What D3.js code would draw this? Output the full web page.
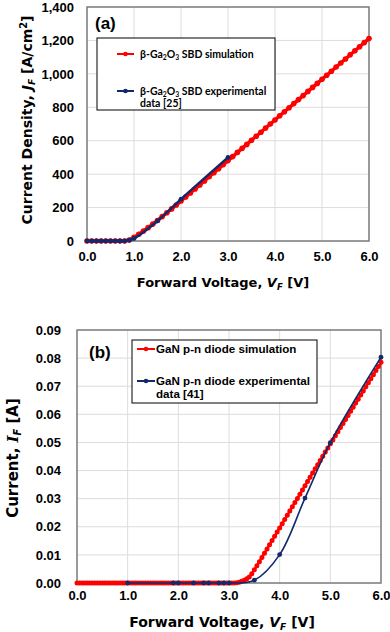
<!DOCTYPE html>
<html>
<head>
<meta charset="utf-8">
<script src="https://cdn.jsdelivr.net/npm/d3@7"></script>
<style>
  body { margin: 0; background: #fff; }
</style>
</head>
<body>
<div id="chart"></div>
<script>
'use strict';

// PANEL (a) DATA: beta-Ga2O3 SBD ---------------------
const simVoltA = [0.0,0.1,0.2,0.3,0.4,0.5,0.6,0.7,0.8,0.9,
                  1.0,1.1,1.2,1.3,1.4,1.5,1.6,1.7,1.8,1.9,
                  2.0,2.1,2.2,2.3,2.4,2.5,2.6,2.7,2.8,2.9,
                  3.0,3.1,3.2,3.3,3.4,3.5,3.6,3.7,3.8,3.9,
                  4.0,4.1,4.2,4.3,4.4,4.5,4.6,4.7,4.8,4.9,
                  5.0,5.1,5.2,5.3,5.4,5.5,5.6,5.7,5.8,5.9,6.0]
const simCurrA = [0,0,0,0,0,0,0,0,0,6,
                  22,40,60,80,101,123,146,169,192,215,
                  239,263,287,311,335,359,384,408,432,457,
                  481,505,530,554,578,603,627,651,676,700,
                  724,749,773,797,822,846,870,895,919,943,
                  968,992,1016,1041,1065,1089,1114,1138,1162,1187,1211]
const expVoltA = [0.0,0.1,0.2,0.3,0.4,0.5,0.6,0.7,0.8,0.9,1.0,1.5,2.0,3.0]
const expCurrA = [0,0,0,0,0,0,0,0,0,5,15,120,250,500]
const yTicksA  = [0,200,400,600,800,1000,1200,1400]
const xTicks   = [0,1,2,3,4,5,6]

// PANEL (b) DATA: GaN p-n diode ---------------------
const simVoltB = [0.00,0.05,0.10,0.15,0.20,0.25,0.30,0.35,0.40,0.45,
                  0.50,0.55,0.60,0.65,0.70,0.75,0.80,0.85,0.90,0.95,
                  1.00,1.05,1.10,1.15,1.20,1.25,1.30,1.35,1.40,1.45,
                  1.50,1.55,1.60,1.65,1.70,1.75,1.80,1.85,1.90,1.95,
                  2.00,2.05,2.10,2.15,2.20,2.25,2.30,2.35,2.40,2.45,
                  2.50,2.55,2.60,2.65,2.70,2.75,2.80,2.85,2.90,2.95,
                  3.00,3.05,3.10,3.15,3.20,3.25,3.30,3.35,3.40,3.45,
                  3.50,3.55,3.60,3.65,3.70,3.75,3.80,3.85,3.90,3.95,
                  4.00,4.05,4.10,4.15,4.20,4.25,4.30,4.35,4.40,4.45,
                  4.50,4.55,4.60,4.65,4.70,4.75,4.80,4.85,4.90,4.95,
                  5.00,5.05,5.10,5.15,5.20,5.25,5.30,5.35,5.40,5.45,
                  5.50,5.55,5.60,5.65,5.70,5.75,5.80,5.85,5.90,5.95,6.00]
const simCurrB = [0,0,0,0,0,0,0,0,0,0,
                  0,0,0,0,0,0,0,0,0,0,
                  0,0,0,0,0,0,0,0,0,0,
                  0,0,0,0,0,0,0,0,0,0,
                  0,0,0,0,0,0,0,0,0,0,
                  0,0,0,0,0,0,0,0,0,0,
                  0,0,0,0.0001,0.0003,0.0006,0.0010,0.0015,0.0021,0.0033,
                  0.0047,0.0061,0.0076,0.0091,0.0106,0.0121,0.0136,0.0151,0.0166,0.0181,
                  0.0196,0.0211,0.0226,0.0241,0.0256,0.0271,0.0286,0.0301,0.0316,0.0331,
                  0.0346,0.0361,0.0376,0.0391,0.0406,0.0421,0.0436,0.0451,0.0466,0.0480,
                  0.0495,0.0509,0.0524,0.0538,0.0553,0.0567,0.0582,0.0596,0.0611,0.0625,
                  0.0640,0.0654,0.0669,0.0683,0.0698,0.0712,0.0727,0.0741,0.0756,0.0770,0.0785]
const expVoltB = [1.0,1.9,2.0,2.3,2.5,2.6,2.8,2.9,3.0,3.5,4.0,4.5,5.0,6.0]
const expCurrB = [0,0,0,0,0,0,0,0,0,0.001,0.0101,0.0302,0.0499,0.0803]
const yTicksB  = [0,0.01,0.02,0.03,0.04,0.05,0.06,0.07,0.08,0.09]

// colours and fonts
const sim_color  = '#ff0000'
const exp_color  = '#12296b'
const grid_color = '#dcdcdc'
const frame_color = '#7a7a7a'
const tickFont   = '"Liberation Sans", Arial, sans-serif'
const titleFont  = '"DejaVu Sans", Verdana, sans-serif'


// create main SVG container ---------------------
var svg = d3.select('#chart').append('svg')
    .attr('width', 390)
    .attr('height', 632)
    .style('display', 'block');


// FUNCTION TO DRAW ONE PANEL ---------------------
var drawPanel = function(p) {

    var x = d3.scaleLinear().domain([0, 6]).range([p.left, p.right]);
    var y = d3.scaleLinear().domain([0, p.yMax]).range([p.bottom, p.top]);
    var g = svg.append('g');

    // GRID LINES
    g.append('g').selectAll('line').data(xTicks.slice(1, -1))
      .enter().append('line')
        .attr('x1', d => x(d)).attr('x2', d => x(d))
        .attr('y1', p.top).attr('y2', p.bottom)
        .attr('stroke', grid_color).attr('stroke-width', 1);
    g.append('g').selectAll('line').data(p.yTicks.slice(1, -1))
      .enter().append('line')
        .attr('x1', p.left).attr('x2', p.right)
        .attr('y1', d => y(d)).attr('y2', d => y(d))
        .attr('stroke', grid_color).attr('stroke-width', 1);

    // AXES (labels only)
    var xa = g.append('g').attr('transform', 'translate(0,' + p.bottom + ')')
        .call(d3.axisBottom(x).tickValues(xTicks).tickFormat(d3.format('.1f')).tickSize(0).tickPadding(p.xPad));
    var ya = g.append('g').attr('transform', 'translate(' + p.left + ',0)')
        .call(d3.axisLeft(y).tickValues(p.yTicks).tickFormat(d3.format(p.yFmt)).tickSize(0).tickPadding(p.yPad));
    [xa, ya].forEach(function(a) {
        a.select('.domain').remove();
        a.selectAll('text').attr('font-family', tickFont).attr('font-weight', 'bold')
            .attr('font-size', p.tickSize).attr('fill', '#000');
    });

    // PLOT FRAME
    g.append('rect')
        .attr('x', p.left).attr('y', p.top)
        .attr('width', p.right - p.left).attr('height', p.bottom - p.top)
        .attr('fill', 'none').attr('stroke', frame_color).attr('stroke-width', 1.5);

    // SIMULATION SERIES (red, dense markers)
    var simPts = p.simV.map((v, i) => [v, p.simI[i]]);
    g.append('path').datum(simPts)
        .attr('d', d3.line().x(d => x(d[0])).y(d => y(d[1])))
        .attr('fill', 'none').attr('stroke', sim_color).attr('stroke-width', p.simWidth);
    g.append('g').selectAll('circle').data(simPts)
      .enter().append('circle')
        .attr('cx', d => x(d[0])).attr('cy', d => y(d[1]))
        .attr('r', p.simR).attr('fill', sim_color);

    // EXPERIMENTAL SERIES (navy, smoothed)
    var expPts = p.expV.map((v, i) => [v, p.expI[i]]);
    g.append('path').datum(expPts)
        .attr('d', d3.line().curve(d3.curveCatmullRom.alpha(0.5)).x(d => x(d[0])).y(d => y(d[1])))
        .attr('fill', 'none').attr('stroke', exp_color).attr('stroke-width', p.expWidth);
    g.append('g').selectAll('circle').data(expPts)
      .enter().append('circle')
        .attr('cx', d => x(d[0])).attr('cy', d => y(d[1]))
        .attr('r', 2.4).attr('fill', exp_color);

    // PANEL LETTER
    g.append('text')
        .attr('x', p.letter[0]).attr('y', p.letter[1])
        .attr('font-family', tickFont).attr('font-weight', 'bold').attr('font-size', 17)
        .text(p.name);

    // X TITLE
    var xt = g.append('text')
        .attr('x', p.xTitle[0]).attr('y', p.xTitle[1])
        .attr('text-anchor', 'middle')
        .attr('font-family', titleFont).attr('font-weight', 'bold').attr('font-size', p.titleSize);
    xt.append('tspan').text('Forward Voltage, ');
    xt.append('tspan').attr('font-style', 'italic').text('V');
    xt.append('tspan').attr('font-style', 'italic').attr('font-size', p.titleSize * 0.65).attr('dy', 3).text('F');
    xt.append('tspan').attr('dy', -3).text(' [V]');

    // Y TITLE
    var yt = g.append('text')
        .attr('transform', 'translate(' + p.yTitle[0] + ',' + p.yTitle[1] + ') rotate(-90)')
        .attr('text-anchor', 'middle').attr('dy', '0.35em')
        .attr('font-family', titleFont).attr('font-weight', 'bold').attr('font-size', p.yTitleSize);
    p.yTitleParts(yt, p.yTitleSize);

    // LEGEND
    var lg = g.append('g');
    lg.append('rect')
        .attr('x', p.legend.x).attr('y', p.legend.y)
        .attr('width', p.legend.w).attr('height', p.legend.h)
        .attr('fill', '#fff').attr('stroke', '#000').attr('stroke-width', 1);
    [[sim_color, p.legend.y1], [exp_color, p.legend.y2]].forEach(function(it) {
        lg.append('line')
            .attr('x1', p.legend.sx1).attr('x2', p.legend.sx2)
            .attr('y1', it[1]).attr('y2', it[1])
            .attr('stroke', it[0]).attr('stroke-width', 2);
        lg.append('circle')
            .attr('cx', (p.legend.sx1 + p.legend.sx2) / 2).attr('cy', it[1])
            .attr('r', 2.3).attr('fill', it[0]);
    });
    p.legendText(lg);
};


// helper for legend text lines, parts in [text, isSubscript] form
function legendLine(lg, x, y, font, size, parts) {
    var t = lg.append('text').attr('x', x).attr('y', y)
        .attr('font-family', font).attr('font-weight', 'bold').attr('font-size', size);
    var shifted = false;
    parts.forEach(function(s) {
        var isSub = Array.isArray(s);
        var ts = t.append('tspan').text(isSub ? s[0] : s);
        if (isSub) { ts.attr('font-size', size * 0.65).attr('dy', 2); shifted = true; }
        else if (shifted) { ts.attr('dy', -2); shifted = false; }
    });
}

var legFontA = 'Lato, "Open Sans", sans-serif';
var legFontB = tickFont;

drawPanel({
    name: '(a)', letter: [95, 29],
    left: 87, right: 369, top: 7, bottom: 241,
    yMax: 1400, yTicks: yTicksA, yFmt: ',',
    xPad: 11, yPad: 13, tickSize: 13,
    simV: simVoltA, simI: simCurrA, expV: expVoltA, expI: expCurrA,
    simWidth: 3.4, simR: 2.8, expWidth: 2.5,
    titleSize: 13, xTitle: [223, 287],
    yTitleSize: 14, yTitle: [27, 120],
    yTitleParts: function(t, s) {
        t.append('tspan').text('Current Density, ');
        t.append('tspan').attr('font-style', 'italic').text('J');
        t.append('tspan').attr('font-style', 'italic').attr('font-size', s * 0.65).attr('dy', 3).text('F');
        t.append('tspan').attr('dy', -3).text(' [A/cm');
        t.append('tspan').attr('font-size', s * 0.7).attr('dy', -5).text('2');
        t.append('tspan').attr('dy', 5).text(']');
    },
    legend: { x: 97, y: 38, w: 178, h: 72, y1: 54, y2: 91, sx1: 117, sx2: 134 },
    legendText: function(lg) {
        legendLine(lg, 140, 57.5, legFontA, 10.5, ['β-Ga', ['2'], 'O', ['3'], ' SBD simulation']);
        legendLine(lg, 140, 94.5, legFontA, 10.5, ['β-Ga', ['2'], 'O', ['3'], ' SBD experimental']);
        legendLine(lg, 140, 106.5, legFontA, 10.5, ['data [25]']);
    }
});

drawPanel({
    name: '(b)', letter: [89, 358],
    left: 77, right: 381, top: 330, bottom: 583,
    yMax: 0.09, yTicks: yTicksB, yFmt: '.2f',
    xPad: 7.5, yPad: 16, tickSize: 13,
    simV: simVoltB, simI: simCurrB, expV: expVoltB, expI: expCurrB,
    simWidth: 2.4, simR: 2.5, expWidth: 1.6,
    titleSize: 14, xTitle: [222, 627],
    yTitleSize: 15, yTitle: [13, 458],
    yTitleParts: function(t, s) {
        t.append('tspan').text('Current, ');
        t.append('tspan').attr('font-style', 'italic').attr('font-family', '"DejaVu Serif", serif').text('I');
        t.append('tspan').attr('font-style', 'italic').attr('font-size', s * 0.65).attr('dy', 3).text('F');
        t.append('tspan').attr('dy', -3).text(' [A]');
    },
    legend: { x: 132, y: 340, w: 185, h: 63, y1: 349, y2: 381, sx1: 137, sx2: 155 },
    legendText: function(lg) {
        legendLine(lg, 156, 353, legFontB, 11.6, ['GaN p-n diode simulation']);
        legendLine(lg, 156, 385, legFontB, 11.6, ['GaN p-n diode experimental']);
        legendLine(lg, 156, 398, legFontB, 11.6, ['data [41]']);
    }
});
</script>
</body>
</html>
